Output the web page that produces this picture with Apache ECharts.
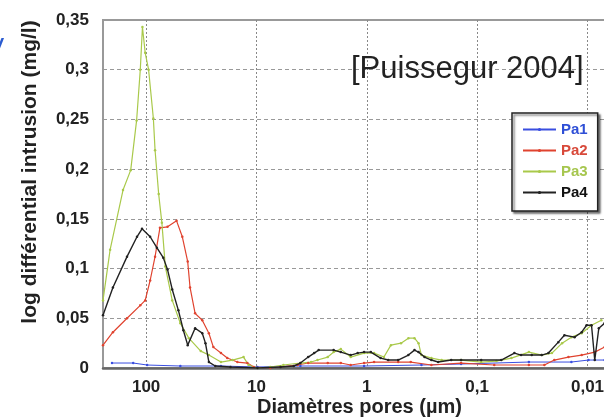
<!DOCTYPE html>
<html><head><meta charset="utf-8">
<script src="https://cdn.jsdelivr.net/npm/echarts@6/dist/echarts.min.js"></script>
<style>html,body{margin:0;padding:0;background:#fff}#c{width:604px;height:418px}</style>
</head><body><div id="c"></div>
<script>
// Pore diameters (µm) and log differential intrusion (mg/l) per sample
const pa1D = [204,131,98,49,21,9.8,4.0,1.06,0.32,0.14,0.034,0.014,0.0098,0.0070];
const pa1V = [0.005,0.005,0.003,0.002,0.002,0.001,0.002,0.002,0.003,0.004,0.006,0.006,0.008,0.008];

const pa2D = [246,200,149,113,102,92,83,75,64,53,47,42,40,36,31,27,24.6,21,18.4,14.9,12.1,10.6,7.5,4.24,3.4,2.26,1.72,1.40,1.06,0.86,0.52,0.40,0.26,0.14,0.070,0.034,0.0246,0.020,0.0149,0.0113,0.0086,0.0070];
const pa2V = [0.023,0.036,0.050,0.063,0.068,0.088,0.112,0.141,0.142,0.148,0.132,0.107,0.081,0.055,0.048,0.035,0.021,0.015,0.010,0.006,0.005,0.001,0.0,0.003,0.005,0.005,0.005,0.003,0.005,0.006,0.006,0.006,0.003,0.005,0.003,0.003,0.003,0.008,0.011,0.013,0.016,0.021];

const pa3D = [246,212,162,138,122,113,108,102,95,86,83,77,72,67,58,49,41,32,27,21,16.5,13.1,11.8,9.8,7.5,5.7,4.0,3.2,2.8,2.26,2.0,1.72,1.40,1.06,0.86,0.70,0.605,0.49,0.42,0.37,0.34,0.32,0.26,0.21,0.14,0.092,0.067,0.049,0.034,0.026,0.021,0.017,0.014,0.0113,0.0092,0.0075];
const pa3V = [0.068,0.119,0.179,0.199,0.249,0.300,0.343,0.317,0.300,0.251,0.219,0.175,0.146,0.102,0.068,0.045,0.030,0.017,0.013,0.006,0.008,0.011,0.003,0.0,0.001,0.003,0.005,0.006,0.008,0.011,0.016,0.019,0.011,0.015,0.015,0.011,0.023,0.025,0.030,0.030,0.025,0.013,0.010,0.008,0.008,0.006,0.007,0.010,0.016,0.013,0.015,0.025,0.031,0.035,0.043,0.048];

const pa4D = [246,200,149,121,109,92,80,70,64,58,51,46,42,36,31,29,27,23.6,17.2,9.8,6.05,4.6,4.0,3.4,3.0,2.73,2.0,1.72,1.40,1.21,1.06,0.92,0.75,0.64,0.52,0.42,0.37,0.34,0.30,0.26,0.226,0.172,0.14,0.092,0.0605,0.046,0.040,0.032,0.026,0.0226,0.0184,0.0162,0.0131,0.0113,0.0102,0.0092,0.0086,0.0079,0.0070];
const pa4V = [0.053,0.081,0.112,0.132,0.140,0.132,0.121,0.111,0.099,0.079,0.058,0.038,0.023,0.040,0.035,0.025,0.006,0.002,0.001,0.0,0.001,0.002,0.005,0.011,0.015,0.018,0.018,0.016,0.013,0.015,0.016,0.016,0.010,0.008,0.008,0.013,0.018,0.016,0.011,0.008,0.006,0.008,0.008,0.008,0.008,0.015,0.013,0.013,0.013,0.015,0.026,0.033,0.031,0.036,0.043,0.043,0.008,0.040,0.045];

const seriesNames = ['Pa1','Pa2','Pa3','Pa4'];
const xTicks = [100,10,1,0.1,0.01];
const xMin = 0.0068, xMax = 246;
const yMin = 0, yMax = 0.35, yStep = 0.05;
const titleText = '[Puissegur 2004]';
const xName = 'Diamètres pores (µm)';
const yName = 'log différential intrusion (mg/l)';

const colors = ['#3a4ee0','#e0432f','#a9c94a','#222222'];
const textColors = ['#2f4fd6','#d8493a','#a6c64e','#111111'];
const widths = [1,1.2,1.2,1.4];
const sets = [[pa1D,pa1V],[pa2D,pa2V],[pa3D,pa3V],[pa4D,pa4V]];
const FONT = 'Liberation Sans, Arial, sans-serif';
const fmt = v => String(v).replace('.', ',');

const chart = echarts.init(document.getElementById('c'), null, {renderer:'canvas'});
chart.setOption({
  animation: false,
  backgroundColor: '#fff',
  title: {
    text: titleText, left: 346, top: 49,
    textStyle: {fontFamily: FONT, fontSize: 31, fontWeight: 'normal', color: '#222'}
  },
  grid: {left: 103, right: -2, top: 20, bottom: 50, containLabel: false, outerBoundsMode: 'none',
    show: true, borderColor: '#999', borderWidth: 2, backgroundColor: 'transparent'},
  legend: {
    orient: 'vertical', left: 512, top: 113,
    data: seriesNames.map((n,i) => ({name: n, textStyle: {color: textColors[i]}})),
    itemWidth: 33, itemHeight: 4, itemGap: 6,
    padding: [9, 10, 11, 10],
    backgroundColor: '#fff', borderColor: '#222', borderWidth: 1.5,
    shadowColor: 'rgba(0,0,0,0.5)', shadowOffsetX: 2, shadowOffsetY: 2, shadowBlur: 2,
    textStyle: {fontFamily: FONT, fontSize: 15, fontWeight: 'bold'}
  },
  xAxis: {
    type: 'log', logBase: 10, inverse: true, min: xMin, max: xMax,
    axisLine: {show: true, onZero: false, lineStyle: {color: '#666', width: 2.5}},
    axisTick: {show: false, customValues: xTicks},
    axisLabel: {customValues: xTicks, formatter: fmt, margin: 11, color: '#222',
      fontFamily: FONT, fontSize: 17, fontWeight: 'bold'},
    splitLine: {show: true, lineStyle: {color: '#888', width: 1, type: [2, 2]}}
  },
  yAxis: {
    type: 'value', min: yMin, max: yMax, interval: yStep,
    axisLine: {show: true, lineStyle: {color: '#999', width: 2}},
    axisTick: {show: false},
    axisLabel: {formatter: fmt, margin: 14, color: '#222', fontFamily: FONT, fontSize: 17, fontWeight: 'bold'},
    splitLine: {show: true, lineStyle: {color: '#999', width: 1, type: [4, 3]}}
  },
  graphic: [
    {type: 'text', left: 257, top: 397, style: {text: xName, font: 'bold 20px Liberation Sans, Arial, sans-serif', fill: '#222'}},
    {type: 'text', x: 30, y: 172, rotation: Math.PI/2,
      style: {text: yName, font: 'bold 21px Liberation Sans, Arial, sans-serif', fill: '#222', align: 'center', verticalAlign: 'middle'}},
    {type: 'text', x: -4, y: 37, style: {text: '/', font: 'bold italic 22px Liberation Sans, Arial, sans-serif', fill: '#2a5bd0'}}
  ],
  series: sets.map((s,i) => ({
    name: seriesNames[i], type: 'line',
    data: s[0].map((d,j) => [d, s[1][j]]),
    symbol: 'circle', symbolSize: 2.5, showSymbol: true,
    lineStyle: {color: colors[i], width: widths[i]},
    itemStyle: {color: colors[i]},
    z: i === 3 ? 5 : 3
  }))
});
</script></body></html>
